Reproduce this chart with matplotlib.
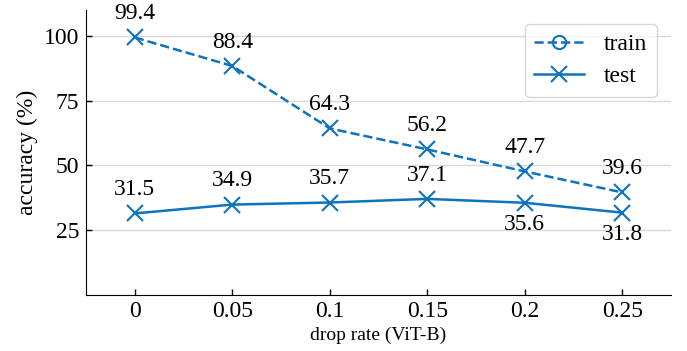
import matplotlib
matplotlib.use("Agg")
import matplotlib.pyplot as plt
from matplotlib.lines import Line2D

drop_rates = [0, 0.05, 0.1, 0.15, 0.2, 0.25]
x_labels = ["0", "0.05", "0.1", "0.15", "0.2", "0.25"]
train_acc = [99.4, 88.4, 64.3, 56.2, 47.7, 39.6]
test_acc = [31.5, 34.9, 35.7, 37.1, 35.6, 31.8]
test_below = [False, False, False, False, True, True]

plt.rcParams["font.family"] = ["Liberation Serif", "DejaVu Serif"]

color = "#0e72bd"

fig = plt.figure(figsize=(6.87, 3.51), dpi=100)
ax = fig.add_axes([0.1252, 0.1595, 0.8515, 0.812])

ax.plot(drop_rates, train_acc, "--", color=color, lw=1.8, marker="x",
        ms=11, mew=1.5, zorder=3)
ax.plot(drop_rates, test_acc, "-", color=color, lw=1.8, marker="x",
        ms=11, mew=1.5, zorder=3)

for x, y in zip(drop_rates, train_acc):
    ax.annotate(f"{y}", (x, y), xytext=(0, 17), textcoords="offset points",
                ha="center", va="center", fontsize=17)
for x, y, below in zip(drop_rates, test_acc, test_below):
    dy = -16 if below else 17
    ax.annotate(f"{y}", (x, y), xytext=(0, dy), textcoords="offset points",
                ha="center", va="center", fontsize=17)

ax.set_xlim(-0.025, 0.275)
ax.set_ylim(0, 110)
ax.set_xticks(drop_rates)
ax.set_xticklabels(x_labels)
ax.set_yticks([25, 50, 75, 100])
ax.tick_params(labelsize=17, length=4.5, direction="in", width=1)
ax.tick_params(axis="y", pad=5)
ax.tick_params(axis="x", pad=4)
ax.yaxis.grid(True, color="#d9d9d9", lw=1)
ax.set_axisbelow(True)
for side in ["top", "right"]:
    ax.spines[side].set_visible(False)

ax.set_xlabel("drop rate (ViT-B)", fontsize=14, labelpad=4)
ax.set_ylabel("accuracy (%)", fontsize=17, labelpad=4)

handles = [
    Line2D([], [], color=color, ls="--", lw=1.8, marker="o", ms=9.5,
           mfc="none", mew=1.5),
    Line2D([], [], color=color, ls="-", lw=1.8, marker="x", ms=11, mew=1.5),
]
ax.legend(handles, ["train", "test"], loc="upper right", fontsize=17,
          handlelength=2.1, handletextpad=0.85, frameon=True, fancybox=True,
          edgecolor="#cccccc", borderaxespad=0.6, labelspacing=0.45)

fig.savefig("out.png", dpi=100)
